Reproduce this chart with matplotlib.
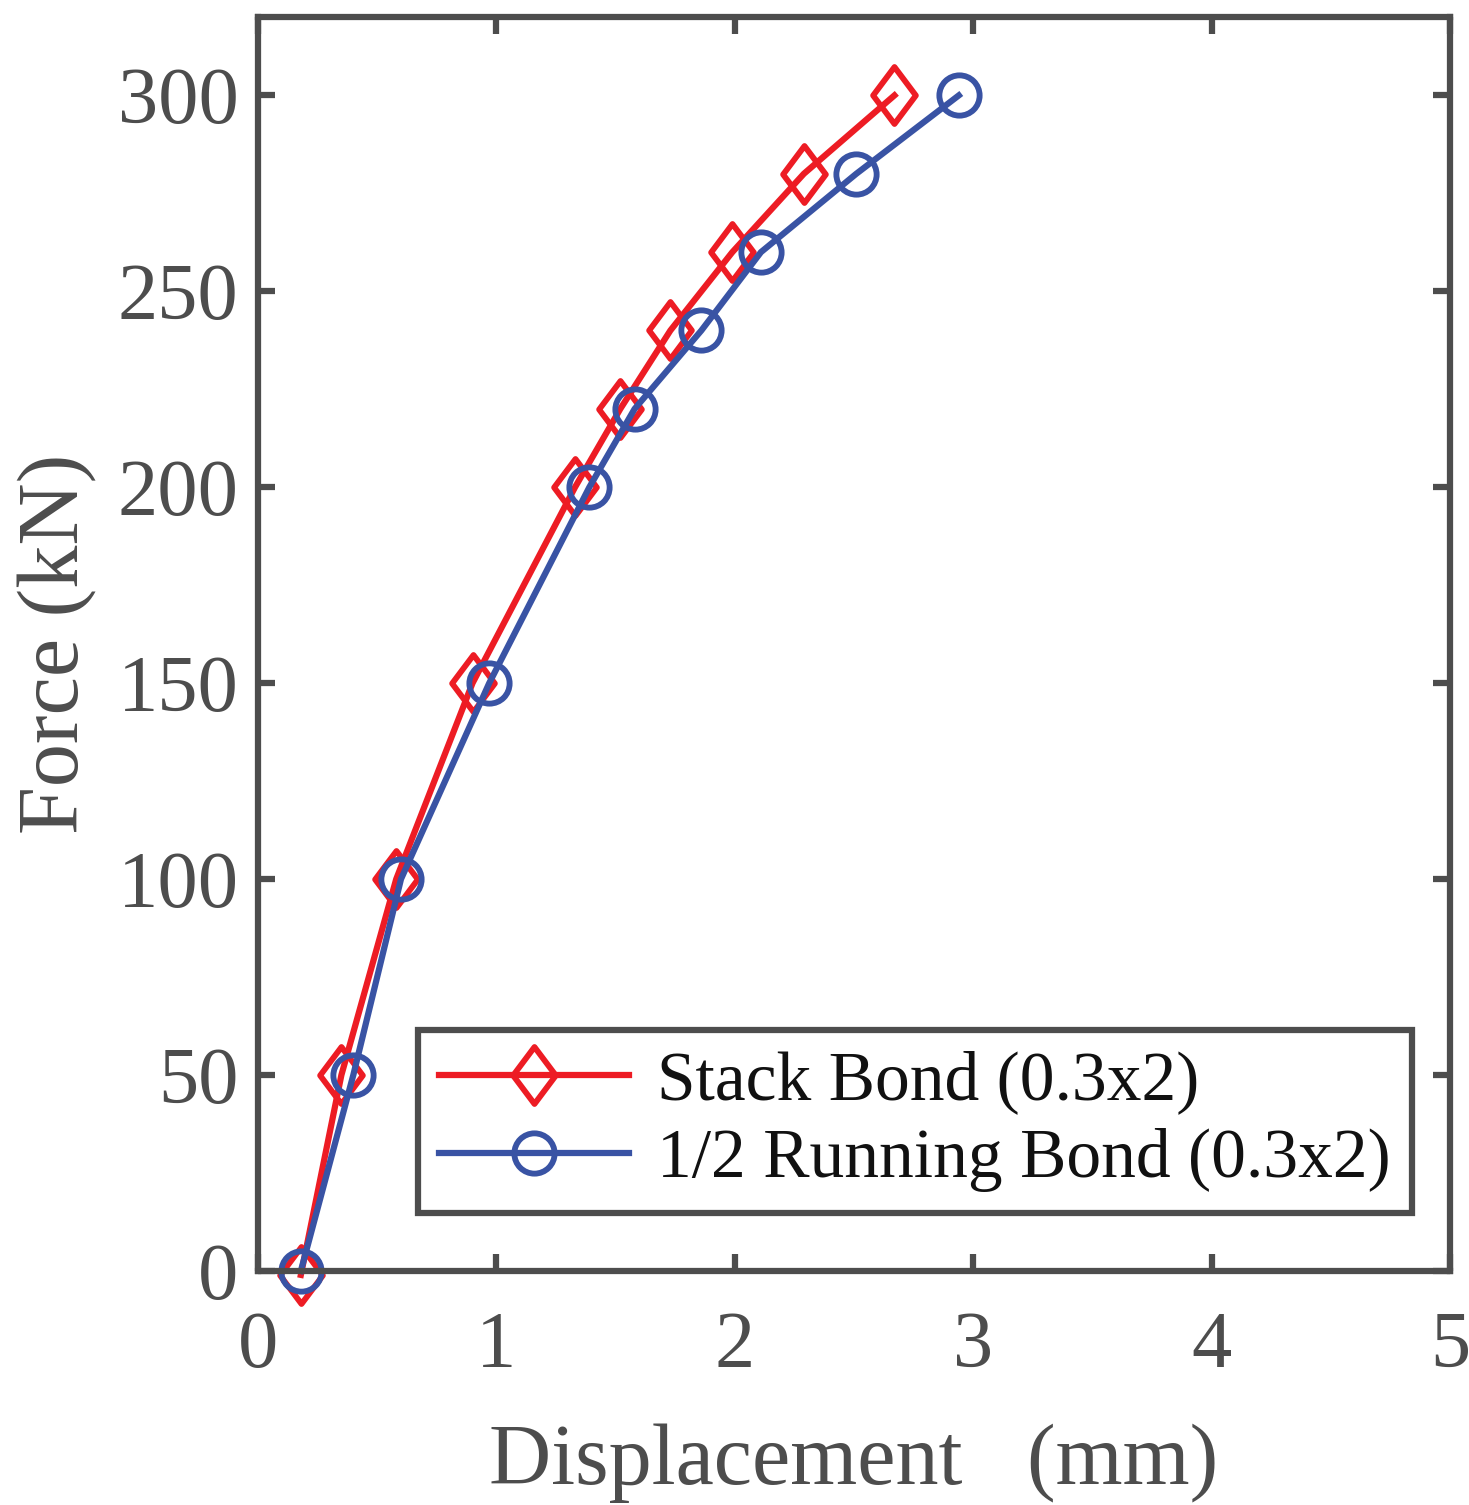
import numpy as np
import matplotlib.pyplot as plt
from matplotlib.path import Path

plt.rcParams['font.family'] = ['Liberation Serif', 'DejaVu Serif']

# data
stack_disp = [0.18, 0.35, 0.58, 0.90, 1.33, 1.52, 1.73, 1.99, 2.29, 2.67]
stack_force = [-1, 50, 100, 150, 200, 220, 240, 260, 280, 300]
run_disp = [0.18, 0.40, 0.60, 0.97, 1.39, 1.58, 1.86, 2.11, 2.51, 2.94]
run_force = [0, 50, 100, 150, 200, 220, 240, 260, 280, 300]

gray = '#4d4d4d'
red = '#ed1c24'
blue = '#3953a4'

diamond = Path([(0, 1), (0.75, 0), (0, -1), (-0.75, 0), (0, 1)],
               [Path.MOVETO, Path.LINETO, Path.LINETO, Path.LINETO, Path.CLOSEPOLY])

fig = plt.figure(figsize=(14.69, 15.05), dpi=100)
ax = fig.add_axes([0.1756, 0.1555, 0.8114, 0.8332])

ax.plot(stack_disp, stack_force, color=red, lw=4.5, marker=diamond, ms=41,
        mfc='none', mec=red, mew=4.2, label='Stack Bond (0.3x2)', clip_on=False)
ax.plot(run_disp, run_force, color=blue, lw=4.5, marker='o', ms=29,
        mfc='none', mec=blue, mew=4.2, label='1/2 Running Bond (0.3x2)', clip_on=False)

ax.set_xlim(0, 5)
ax.set_ylim(0, 320)
ax.set_xticks([0, 1, 2, 3, 4, 5])
ax.set_yticks([0, 50, 100, 150, 200, 250, 300])

for s in ax.spines.values():
    s.set_color(gray)
    s.set_linewidth(4.5)
ax.tick_params(direction='in', length=12, width=4.5, color=gray,
               labelcolor=gray, labelsize=58, top=True, right=True)
ax.tick_params(axis='x', pad=29)
ax.tick_params(axis='y', pad=14)

ax.set_xlabel('Displacement   (mm)', fontsize=62, color=gray, labelpad=28)
ax.set_ylabel('Force (kN)', fontsize=62, color=gray, labelpad=14)

leg = ax.legend(loc='lower left', bbox_to_anchor=(0.134, 0.046), fontsize=50,
                handlelength=2.75, numpoints=1, fancybox=False, framealpha=1,
                borderpad=0.3, labelspacing=0.2, handletextpad=0.4,
                borderaxespad=0)
leg.get_frame().set_edgecolor(gray)
leg.get_frame().set_linewidth(4.5)
for t in leg.get_texts():
    t.set_color('#111111')

plt.savefig('out.png', dpi=100)
